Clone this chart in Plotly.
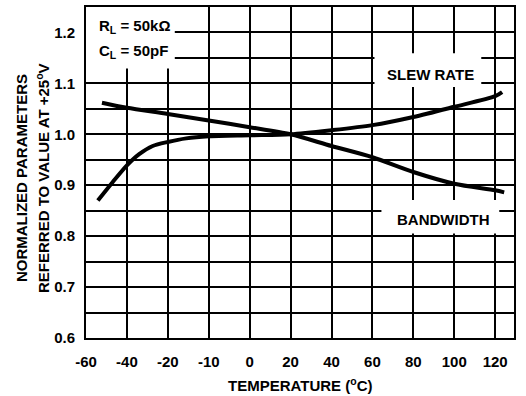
import plotly.graph_objects as go

# x positions are in chart divisions (the printed temperature scale is not uniform)
tick_labels = ["-60", "-40", "-20", "-10", "0", "20", "40", "60", "80", "100", "120"]
tick_pos = list(range(len(tick_labels)))

bw_x = [0.39, 1, 2, 3, 4, 5, 6, 7, 8, 9, 10, 10.22]
bw_y = [1.062, 1.052, 1.040, 1.027, 1.014, 1.0, 0.977, 0.955, 0.926, 0.903, 0.890, 0.886]

sr_x = [0.29, 0.65, 1, 1.3, 1.63, 2, 2.45, 3, 4, 5, 6, 7, 8, 9, 10, 10.17]
sr_y = [0.870, 0.906, 0.939, 0.961, 0.977, 0.985, 0.992, 0.996, 0.998, 1.0,
        1.008, 1.018, 1.034, 1.054, 1.075, 1.083]

y_ticks = [0.6, 0.7, 0.8, 0.9, 1.0, 1.1, 1.2]
y_text = ["0.6", "0.7", "0.8", "0.9", "1.0", "1.1", "1.2"]
y_minor = [0.65, 0.75, 0.85, 0.95, 1.05, 1.15]

FONT = "Liberation Sans"

fig = go.Figure()
for xs, ys in [(bw_x, bw_y), (sr_x, sr_y)]:
    fig.add_trace(go.Scatter(x=xs, y=ys, mode="lines",
                             line=dict(color="black", width=4, shape="spline", smoothing=0.8),
                             hoverinfo="skip", showlegend=False))

# white label boxes that break the grid
boxes = [(0, 2.17, 1.129, 1.25), (7.05, 9.66, 1.093, 1.159), (7.22, 10.1, 0.805, 0.871)]
for x0, x1, y0, y1 in boxes:
    fig.add_shape(type="rect", x0=x0, x1=x1, y0=y0, y1=y1, layer="between",
                  fillcolor="white", line=dict(width=0))

lab = dict(showarrow=False, xanchor="center", yanchor="middle",
           font=dict(family=FONT, size=15, color="black", weight="bold"))
left = {**lab, "xanchor": "left"}
fig.add_annotation(x=0.26, y=1.212, text="R<sub>L</sub> = 50kΩ", **left)
fig.add_annotation(x=0.26, y=1.163, text="C<sub>L</sub> = 50pF", **left)
fig.add_annotation(x=8.41, y=1.117, text="SLEW RATE", **lab)
fig.add_annotation(x=8.72, y=0.833, text="BANDWIDTH", **lab)

fig.add_annotation(x=-0.152, y=0.483, xref="paper", yref="paper", textangle=-90,
                   text="NORMALIZED PARAMETERS", **lab)
fig.add_annotation(x=-0.103, y=0.483, xref="paper", yref="paper", textangle=-90,
                   text="REFERRED TO VALUE AT +25<sup>o</sup>V", **lab)
fig.add_annotation(x=0.5, y=-0.139, xref="paper", yref="paper",
                   text="TEMPERATURE (<sup>o</sup>C)", **lab)

axis_common = dict(showgrid=True, gridcolor="black", gridwidth=2, showline=True,
                   linecolor="black", linewidth=2, mirror=True, zeroline=False,
                   ticks="", automargin=False,
                   tickfont=dict(family=FONT, size=15, color="black", weight="bold"))
fig.update_xaxes(range=[0, 10.46], tickvals=tick_pos, ticktext=tick_labels,
                 ticklabelstandoff=9, **axis_common)
fig.update_yaxes(range=[0.6, 1.25], tickvals=y_ticks, ticktext=y_text,
                 ticklabelstandoff=6,
                 minor=dict(tickvals=y_minor, showgrid=True, gridcolor="black", gridwidth=2),
                 **axis_common)

fig.update_layout(width=526, height=396, margin=dict(l=86, r=12, t=7, b=58),
                  plot_bgcolor="white", paper_bgcolor="white",
                  font=dict(family=FONT, color="black"))
fig.write_html("out.html", config={"displayModeBar": False},
               post_script="document.body.style.margin='0';")
